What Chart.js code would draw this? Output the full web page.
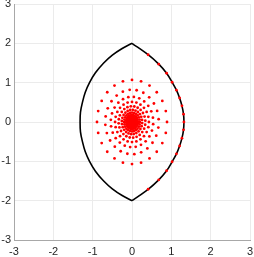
<!DOCTYPE html>
<html>
<head>
<meta charset="utf-8">
<script src="https://cdn.jsdelivr.net/npm/chart.js@4"></script>
<style>
  html, body { margin: 0; padding: 0; background: #fff; }
  canvas { display: block; }
</style>
</head>
<body>
<canvas id="lensChart" width="254" height="257"></canvas>
<script>
// Axis ticks
const tickValues = [-3, -2, -1, 0, 1, 2, 3];

// Left arc of the lens (bottom apex to top apex)
const leftArcX = [0, -0.25, -0.50, -0.72, -0.93, -1.08, -1.19, -1.26, -1.31, -1.32, -1.31, -1.26, -1.19, -1.08, -0.93, -0.72, -0.50, -0.25, 0];
const leftArcY = [-2, -1.87, -1.70, -1.50, -1.25, -1.00, -0.75, -0.50, -0.25, 0, 0.25, 0.50, 0.75, 1.00, 1.25, 1.50, 1.70, 1.87, 2];

// Points sitting on the right arc
const edgeDotX = [0.41, 0.68, 0.88, 1.02, 1.13, 1.21, 1.27, 1.31, 1.32, 1.31, 1.27, 1.21, 1.13, 1.02, 0.88, 0.68, 0.41];
const edgeDotY = [-1.71, -1.47, -1.24, -1.01, -0.81, -0.61, -0.41, -0.20, 0, 0.20, 0.41, 0.61, 0.81, 1.01, 1.24, 1.47, 1.71];

// Right arc = apexes plus the edge points
const rightArcX = [0, ...edgeDotX, 0];
const rightArcY = [-2, ...edgeDotY, 2];

// Inner point cloud: rings (horizontal / vertical half widths, twist) and spoke angles
const ringHalfX = [0.89, 0.68, 0.54, 0.43, 0.34, 0.26, 0.20, 0.15, 0.11, 0.08, 0.055, 0.035, 0.02];
const ringHalfY = [1.07, 0.82, 0.64, 0.51, 0.40, 0.31, 0.24, 0.18, 0.13, 0.095, 0.065, 0.04, 0.024];
const ringTwistDeg = [0, 5, 10, 15, 20, 25, 30, 35, 40, 45, 50, 55, 60];
const spokeDeg = [0, 15, 30, 45, 60, 75, 90, 105, 120, 135, 150, 165, 180, 195, 210, 225, 240, 255, 270, 285, 300, 315, 330, 345];

function pairUp(xs, ys) {
  return xs.map((x, i) => ({ x: x, y: ys[i] }));
}

const cloud = [];
ringHalfX.forEach((hx, r) => {
  spokeDeg.forEach(d => {
    const t = (d + ringTwistDeg[r]) * Math.PI / 180;
    cloud.push({ x: hx * Math.cos(t), y: ringHalfY[r] * Math.sin(t) });
  });
});

const tickFont = { family: "'Liberation Sans', Arial, sans-serif", size: 11 };

function axis(isY) {
  return {
    type: "linear",
    min: -3,
    max: 3,
    afterBuildTicks: s => { s.ticks = tickValues.map(v => ({ value: v })); },
    afterFit: s => {
      if (isY) {
        s.width = 14;
        s.paddingTop = 3;
        s.paddingBottom = 0;
      } else {
        s.height = 17;
        s.paddingLeft = 0;
        s.paddingRight = 3.5;
      }
    },
    ticks: { font: tickFont, color: "#262626", padding: isY ? 3 : 5, autoSkip: false, maxRotation: 0 },
    grid: { color: "#ebebeb", lineWidth: 1, drawTicks: false },
    border: { color: "#a8a8a8", width: 1 }
  };
}

new Chart(document.getElementById("lensChart"), {
  type: "scatter",
  data: {
    datasets: [
      {
        data: cloud,
        backgroundColor: "#ff0000",
        borderWidth: 0,
        pointRadius: 1.4,
        order: 1
      },
      {
        data: pairUp(edgeDotX, edgeDotY),
        backgroundColor: "#ff0000",
        borderWidth: 0,
        pointRadius: 1.4,
        order: 1
      },
      {
        data: pairUp(leftArcX, leftArcY),
        showLine: true,
        borderColor: "#000",
        borderWidth: 1.6,
        pointRadius: 0,
        tension: 0.35,
        order: 2
      },
      {
        data: pairUp(rightArcX, rightArcY),
        showLine: true,
        borderColor: "#000",
        borderWidth: 1.6,
        pointRadius: 0,
        tension: 0.35,
        order: 2
      }
    ]
  },
  options: {
    responsive: false,
    animation: false,
    layout: { padding: 0 },
    plugins: { legend: { display: false }, tooltip: { enabled: false } },
    scales: { x: axis(false), y: axis(true) }
  }
});
</script>
</body>
</html>
